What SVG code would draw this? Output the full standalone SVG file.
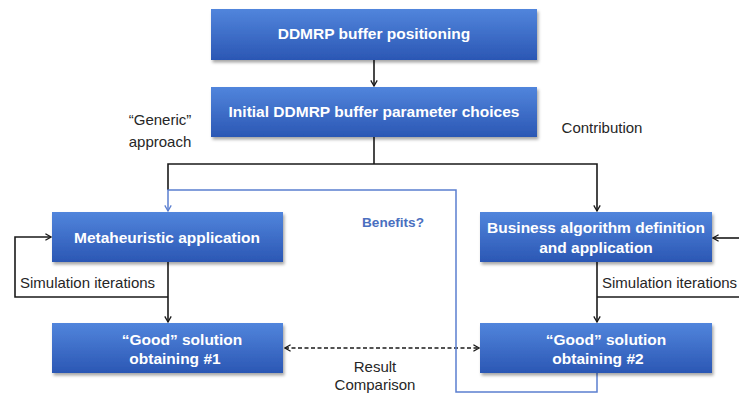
<svg xmlns="http://www.w3.org/2000/svg" width="739" height="394" viewBox="0 0 739 394">
<defs>
<style>
.box{fill:url(#g);filter:url(#sh);}
.bt{font-family:"Liberation Sans",Arial,sans-serif;font-weight:bold;font-size:15.5px;fill:#ffffff;text-anchor:middle;}
.lt{font-family:"Liberation Sans",Arial,sans-serif;font-size:15px;fill:#262626;}
.blt{font-family:"Liberation Sans",Arial,sans-serif;font-weight:bold;font-size:13.6px;fill:#4a6fc0;}
.k{fill:none;stroke:#1a1a1a;stroke-width:1.6;}
.b{fill:none;stroke:#5b7fd0;stroke-width:1.5;}
.d{fill:none;stroke:#1a1a1a;stroke-width:1.5;stroke-dasharray:4 2.5;}
</style>
<linearGradient id="g" x1="0" y1="0" x2="0" y2="1">
<stop offset="0" stop-color="#5185dc"/>
<stop offset="1" stop-color="#2b57b4"/>
</linearGradient>
<filter id="sh" x="-5%" y="-10%" width="112%" height="135%">
<feDropShadow dx="1.5" dy="2.5" stdDeviation="1.5" flood-color="#000" flood-opacity="0.35"/>
</filter>
<marker id="ak" viewBox="0 0 10 10" refX="9" refY="5" markerWidth="8" markerHeight="8" markerUnits="userSpaceOnUse" orient="auto-start-reverse">
<path d="M2,1 L9,5 L2,9" fill="none" stroke="#1a1a1a" stroke-width="1.6"/>
</marker>
<marker id="ab" viewBox="0 0 10 10" refX="9" refY="5" markerWidth="8" markerHeight="8" markerUnits="userSpaceOnUse" orient="auto">
<path d="M2,1 L9,5 L2,9" fill="none" stroke="#5b7fd0" stroke-width="1.6"/>
</marker>
</defs>
<rect width="739" height="394" fill="#ffffff"/>

<g id="connectors">
<line class="k" x1="374" y1="60" x2="374" y2="86" marker-end="url(#ak)"/>
<polyline class="k" points="374,137 374,164"/>
<polyline class="k" points="168,190 168,164 597,164 597,211" marker-end="url(#ak)"/>
<line class="k" x1="168" y1="262" x2="168" y2="322" marker-end="url(#ak)"/>
<polyline class="k" points="168,297 15,297 15,237 51,237" marker-end="url(#ak)"/>
<line class="k" x1="597" y1="262" x2="597" y2="322" marker-end="url(#ak)"/>
<polyline class="k" points="597,297 740,297"/>
<line class="k" x1="740" y1="238" x2="713" y2="238" marker-end="url(#ak)"/>
<line class="d" x1="285" y1="348" x2="479" y2="348" marker-start="url(#ak)" marker-end="url(#ak)"/>
<polyline class="b" points="597,373 597,392 456,392 456,190 168,190 168,211" marker-end="url(#ab)"/>
</g>

<g id="n1"><rect class="box" x="211" y="9" width="326" height="51"/><text class="bt" x="374" y="39">DDMRP buffer positioning</text></g>
<g id="n2"><rect class="box" x="211" y="87" width="326" height="50"/><text class="bt" x="374" y="117">Initial DDMRP buffer parameter choices</text></g>
<g id="n3"><rect class="box" x="52" y="212" width="231" height="50"/><text class="bt" x="167" y="243">Metaheuristic application</text></g>
<g id="n4"><rect class="box" x="480" y="212" width="232" height="50"/><text class="bt" x="596" y="233">Business algorithm definition</text><text class="bt" x="596" y="253">and application</text></g>
<g id="n5"><rect class="box" x="52" y="323" width="231" height="50"/><text class="bt" x="182" y="345">“Good” solution</text><text class="bt" x="175" y="364">obtaining #1</text></g>
<g id="n6"><rect class="box" x="480" y="323" width="232" height="50"/><text class="bt" x="606" y="345">“Good” solution</text><text class="bt" x="598" y="364">obtaining #2</text></g>

<g id="labels">
<text class="lt" x="160" y="125" text-anchor="middle">“Generic”</text>
<text class="lt" x="160" y="147" text-anchor="middle">approach</text>
<text class="lt" x="602" y="133" text-anchor="middle">Contribution</text>
<text class="blt" x="362" y="227">Benefits?</text>
<text class="lt" x="20" y="288">Simulation iterations</text>
<text class="lt" x="602" y="288">Simulation iterations</text>
<text class="lt" x="375" y="372" text-anchor="middle">Result</text>
<text class="lt" x="375" y="390" text-anchor="middle">Comparison</text>
</g>
</svg>
